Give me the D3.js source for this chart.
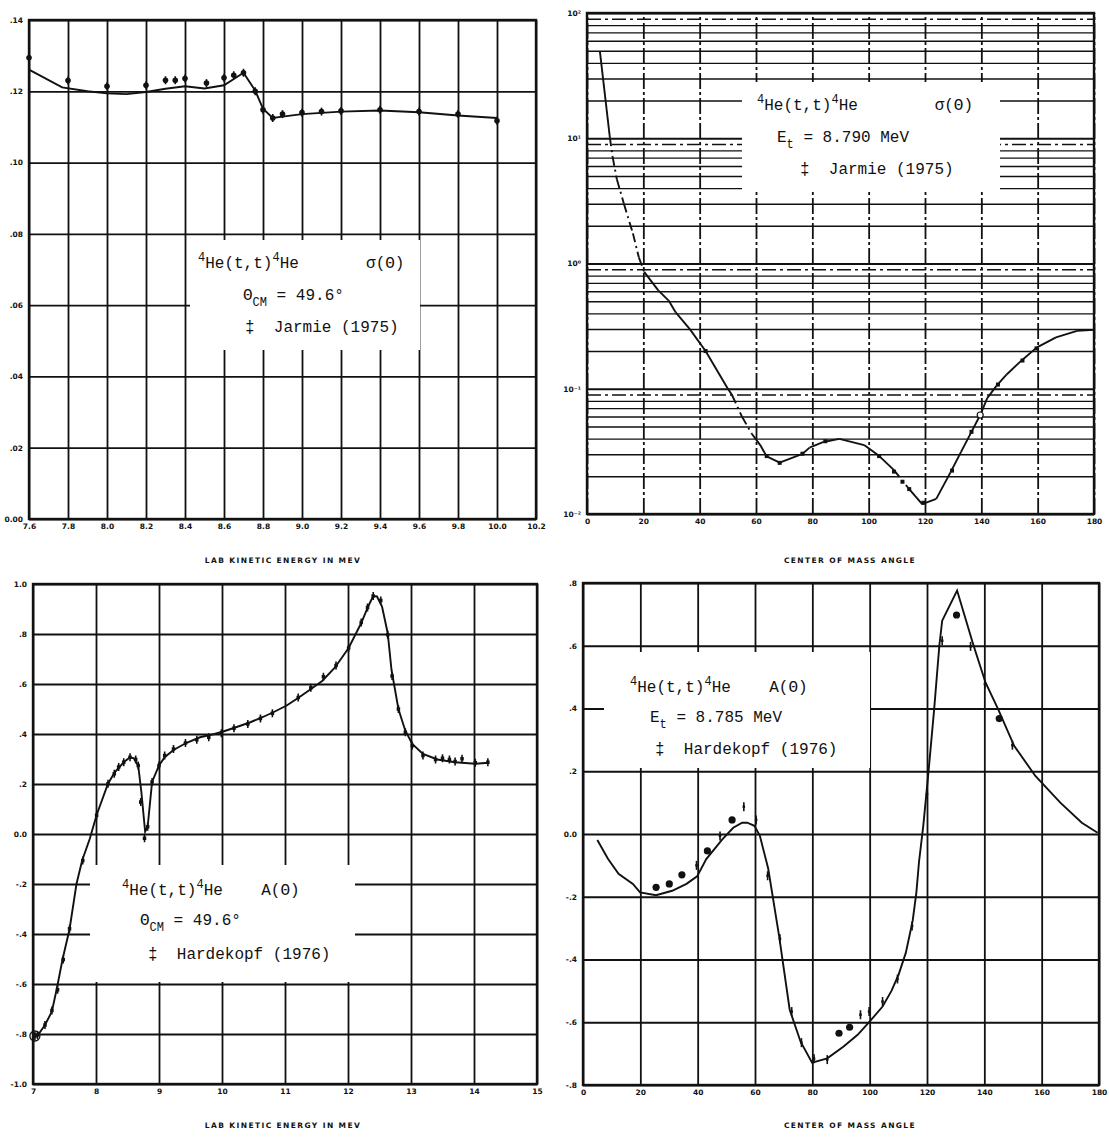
<!DOCTYPE html>
<html>
<head>
<meta charset="utf-8">
<script src="https://cdn.jsdelivr.net/npm/d3@7"></script>
<style>
body { margin: 0; background: #fff; }
svg { display: block; }
.grid .tick text { font-family: "DejaVu Sans", sans-serif; font-weight: bold; font-size: 7.5px; fill: #111; }
.grid .tick line { stroke: #111; stroke-width: 1.8; }
.title { font-family: "DejaVu Sans", sans-serif; font-weight: bold; font-size: 7.5px; letter-spacing: 1.4px; fill: #111; }
.box { font-family: "Liberation Mono", "DejaVu Sans Mono", monospace; font-size: 16px; white-space: pre; fill: #111; }
</style>
</head>
<body>
<svg width="1109" height="1138"></svg>
<script>
// top left: sigma(49.6 deg) against lab energy, Jarmie (1975)
var tlTicksX = [7.6, 7.8, 8.0, 8.2, 8.4, 8.6, 8.8, 9.0, 9.2, 9.4, 9.6, 9.8, 10.0, 10.2];
var tlLabelsX = ["7.6", "7.8", "8.0", "8.2", "8.4", "8.6", "8.8", "9.0", "9.2", "9.4", "9.6", "9.8", "10.0", "10.2"];
var tlTicksY = [0, 0.02, 0.04, 0.06, 0.08, 0.10, 0.12, 0.14];
var tlLabelsY = ["0.00", ".02", ".04", ".06", ".08", ".10", ".12", ".14"];
var tlCurveE = [7.6, 7.77, 7.9, 8.0, 8.1, 8.2, 8.3, 8.4, 8.5, 8.6, 8.7, 8.76, 8.8, 8.85, 8.9, 9.0, 9.2, 9.4, 9.6, 9.8, 10.0];
var tlCurveS = [.1261, .1211, .1200, .1194, .1192, .1198, .1207, .1214, .1208, .1217, .1252, .1202, .1151, .1125, .1129, .1136, .1143, .1146, .1141, .1132, .1125];
var tlDataE = [7.6, 7.8, 8.0, 8.2, 8.3, 8.35, 8.4, 8.51, 8.6, 8.65, 8.7, 8.76, 8.8, 8.85, 8.9, 9.0, 9.1, 9.2, 9.4, 9.6, 9.8, 10.0];
var tlDataS = [.1294, .1230, .1214, .1217, .1231, .1231, .1236, .1223, .1238, .1245, .1252, .1200, .1148, .1125, .1136, .1140, .1143, .1145, .1148, .1143, .1136, .1117];

// top right: angular distribution of sigma at 8.790 MeV
var trTicksX = [0, 20, 40, 60, 80, 100, 120, 140, 160, 180];
var trTicksY = [0.01, 0.1, 1, 10, 100];
var trLabelsY = ["10\u207B\u00B2", "10\u207B\u00B9", "10\u2070", "10\u00B9", "10\u00B2"];
var trCurveA = [4.6, 8.1, 9.1, 10.6, 13.1, 16.3, 18.4, 20.3, 25.3, 29, 31.5, 36.5, 42.1, 49.9, 51.5, 55, 58.5, 61.5, 63.8, 68.4, 76.5, 79, 84, 89.6, 98.4, 103.4, 109, 114, 119, 124, 129, 132.8, 136.5, 139.6, 142.1, 145.3, 149, 154, 159.6, 166.5, 174, 180];
var trCurveS = [49, 10.2, 7.1, 4.7, 3.0, 1.74, 1.12, 0.857, 0.61, 0.506, 0.407, 0.299, 0.20, 0.101, 0.089, 0.060, 0.0437, 0.0355, 0.0288, 0.0257, 0.0302, 0.0339, 0.0376, 0.0398, 0.0355, 0.0295, 0.0224, 0.0162, 0.0120, 0.0132, 0.0214, 0.0313, 0.0453, 0.0617, 0.0841, 0.105, 0.130, 0.166, 0.213, 0.257, 0.290, 0.295];
var trDataA = [42.1, 63.8, 68.4, 76.5, 84.6, 103.7, 109, 112, 114.4, 119.4, 129.6, 136.5, 145.9, 154.6, 159.6];
var trDataS = [0.20, 0.029, 0.0256, 0.0303, 0.0381, 0.029, 0.0218, 0.0181, 0.0158, 0.0123, 0.0222, 0.0453, 0.108, 0.168, 0.210];
var trOpenA = [139.6];
var trOpenS = [0.0617];

// bottom left: A(49.6 deg) against lab energy, Hardekopf (1976)
var blTicksX = [7, 8, 9, 10, 11, 12, 13, 14, 15];
var blLabelsX = ["7", "8", "9", "10", "11", "12", "13", "14", "15"];
var blTicksY = [-1, -0.8, -0.6, -0.4, -0.2, 0, 0.2, 0.4, 0.6, 0.8, 1];
var blLabelsY = ["-1.0", "-.8", "-.6", "-.4", "-.2", "0.0", ".2", ".4", ".6", ".8", "1.0"];
var blCurveE = [7.03, 7.09, 7.19, 7.30, 7.38, 7.47, 7.58, 7.69, 7.78, 7.9, 8.01, 8.19, 8.30, 8.44, 8.54, 8.60, 8.67, 8.72, 8.78, 8.82, 8.89, 9.0, 9.09, 9.23, 9.43, 9.65, 9.88, 10.02, 10.21, 10.44, 10.66, 10.83, 11.02, 11.22, 11.39, 11.59, 11.79, 12.01, 12.21, 12.32, 12.40, 12.46, 12.54, 12.63, 12.69, 12.80, 12.91, 13.02, 13.19, 13.42, 13.70, 14.02, 14.23];
var blCurveA = [-0.808, -0.80, -0.764, -0.71, -0.616, -0.50, -0.381, -0.2, -0.106, -0.02, 0.076, 0.201, 0.248, 0.287, 0.307, 0.303, 0.274, 0.168, 0.009, 0.029, 0.208, 0.274, 0.307, 0.336, 0.364, 0.387, 0.40, 0.41, 0.426, 0.446, 0.469, 0.489, 0.513, 0.546, 0.576, 0.612, 0.665, 0.744, 0.844, 0.91, 0.952, 0.95, 0.91, 0.804, 0.658, 0.50, 0.413, 0.36, 0.32, 0.298, 0.287, 0.281, 0.285];
var blDataE = [7.03, 7.07, 7.19, 7.30, 7.39, 7.48, 7.58, 7.79, 8.01, 8.19, 8.29, 8.36, 8.44, 8.54, 8.63, 8.67, 8.71, 8.77, 8.82, 8.89, 9.0, 9.09, 9.23, 9.42, 9.60, 9.79, 9.99, 10.19, 10.41, 10.61, 10.80, 11.21, 11.41, 11.61, 11.81, 12.01, 12.21, 12.31, 12.40, 12.52, 12.63, 12.70, 12.80, 12.91, 13.02, 13.19, 13.39, 13.50, 13.61, 13.70, 13.81, 14.02, 14.22];
var blDataA = [-0.808, -0.804, -0.764, -0.706, -0.623, -0.502, -0.379, -0.106, 0.075, 0.201, 0.241, 0.268, 0.287, 0.307, 0.298, 0.274, 0.128, -0.017, 0.029, 0.208, 0.274, 0.314, 0.340, 0.364, 0.377, 0.387, 0.403, 0.423, 0.44, 0.462, 0.483, 0.546, 0.585, 0.629, 0.674, 0.744, 0.846, 0.906, 0.952, 0.934, 0.797, 0.632, 0.50, 0.407, 0.354, 0.314, 0.298, 0.303, 0.298, 0.290, 0.301, 0.285, 0.287];

// bottom right: angular distribution of A at 8.785 MeV
var brTicksX = [0, 20, 40, 60, 80, 100, 120, 140, 160, 180];
var brTicksY = [-0.8, -0.6, -0.4, -0.2, 0, 0.2, 0.4, 0.6, 0.8];
var brLabelsY = ["-.8", "-.6", "-.4", "-.2", "0.0", ".2", ".4", ".6", ".8"];
var brCurveA = [5.0, 8.7, 12.4, 17.4, 19.9, 25.5, 31.1, 36.1, 39.8, 43, 48.6, 52.4, 55.5, 57.3, 59.8, 61.7, 64.6, 68.4, 72.1, 75.9, 79.9, 85.2, 90.8, 95.8, 99.5, 104.5, 107.6, 110.1, 112.6, 115, 116.3, 117.2, 118.7, 120.6, 122.5, 124.3, 125.3, 130.5, 136.1, 140.4, 144.8, 150.4, 157.8, 166.5, 174, 179.5];
var brCurveV = [-0.019, -0.079, -0.127, -0.159, -0.186, -0.195, -0.181, -0.159, -0.135, -0.08, -0.017, 0.02, 0.036, 0.036, 0.026, -0.006, -0.11, -0.325, -0.56, -0.662, -0.729, -0.715, -0.678, -0.64, -0.603, -0.55, -0.50, -0.448, -0.379, -0.277, -0.186, -0.09, 0.026, 0.206, 0.398, 0.60, 0.68, 0.776, 0.605, 0.483, 0.398, 0.281, 0.185, 0.10, 0.036, 0.004];
var brDotA = [25.5, 30.1, 34.5, 43.4, 52, 89.3, 93, 130.3, 145.2];
var brDotV = [-0.17, -0.159, -0.13, -0.054, 0.045, -0.635, -0.616, 0.698, 0.368];
var brBarA = [39.6, 47.8, 56.1, 60.4, 64.4, 68.7, 72.8, 76.2, 80.6, 85.2, 96.8, 99.8, 104.5, 109.7, 114.8, 120, 125.3, 135.2, 140.2, 149.8];
var brBarV = [-0.1, -0.006, 0.087, 0.045, -0.133, -0.334, -0.566, -0.665, -0.716, -0.719, -0.576, -0.566, -0.534, -0.462, -0.293, 0.127, 0.616, 0.598, 0.478, 0.283];

var svg = d3.select("svg");

function grid(x, y, xt, xl, yt, yl, dashX) {
    var w = x.range()[1] - x.range()[0], h = y.range()[0] - y.range()[1];
    var gx = svg.append("g").attr("class", "grid").attr("transform", "translate(0," + y.range()[0] + ")")
        .call(d3.axisBottom(x).tickValues(xt).tickSize(-h).tickPadding(5).tickFormat(function (d, i) { return xl[i] }));
    gx.select(".domain").remove();
    if (dashX) gx.selectAll(".tick line").style("stroke-dasharray", "16,3,3,3");
    var gy = svg.append("g").attr("class", "grid").attr("transform", "translate(" + x.range()[0] + ",0)")
        .call(d3.axisLeft(y).tickValues(yt).tickSize(-w).tickPadding(6).tickFormat(function (d, i) { return yl[i] }));
    gy.select(".domain").remove();
    svg.append("rect").attr("x", x.range()[0]).attr("y", y.range()[1]).attr("width", w).attr("height", h)
        .style("fill", "none").style("stroke", "#111").style("stroke-width", 2.4);
}

function whiteBox(x0, y0, x1, y1) {
    svg.append("rect").attr("x", x0).attr("y", y0).attr("width", x1 - x0).attr("height", y1 - y0).style("fill", "#fff");
}

// parts: [text, "sup" | "sub" | undefined]
function boxLine(x, y, parts) {
    var t = svg.append("text").attr("class", "box").attr("x", x).attr("y", y);
    var shift = 0;
    parts.forEach(function (p) {
        var target = p[1] == "sup" ? -7 : p[1] == "sub" ? 6 : 0;
        var s = t.append("tspan").attr("dy", target - shift).text(p[0]);
        if (p[1]) s.style("font-size", "12px");
        shift = target;
    });
}

function title(cx, cy, txt) {
    svg.append("text").attr("class", "title").attr("x", cx).attr("y", cy).attr("text-anchor", "middle").text(txt);
}

function curve(x, y, xs, ys) {
    svg.append("path").datum(d3.range(xs.length)).attr("d", d3.line().x(function (i) { return x(xs[i]) }).y(function (i) { return y(ys[i]) }))
        .style("fill", "none").style("stroke", "#111").style("stroke-width", 1.9);
}

function bars(x, y, xs, ys, half) {
    svg.append("g").selectAll("line").data(d3.range(xs.length)).enter().append("line")
        .attr("x1", function (i) { return x(xs[i]) }).attr("x2", function (i) { return x(xs[i]) })
        .attr("y1", function (i) { return y(ys[i]) - half }).attr("y2", function (i) { return y(ys[i]) + half })
        .style("stroke", "#111").style("stroke-width", 1.6);
}

function dots(x, y, xs, ys, r) {
    svg.append("g").selectAll("circle").data(d3.range(xs.length)).enter().append("circle")
        .attr("cx", function (i) { return x(xs[i]) }).attr("cy", function (i) { return y(ys[i]) }).attr("r", r)
        .style("fill", "#111");
}

function squares(x, y, xs, ys, s) {
    svg.append("g").selectAll("rect").data(d3.range(xs.length)).enter().append("rect")
        .attr("x", function (i) { return x(xs[i]) - s / 2 }).attr("y", function (i) { return y(ys[i]) - s / 2 })
        .attr("width", s).attr("height", s).style("fill", "#111");
}

// ---------- top left ----------
var tlX = d3.scaleLinear().domain([7.6, 10.2]).range([29, 536]);
var tlY = d3.scaleLinear().domain([0, 0.14]).range([519, 20]);
grid(tlX, tlY, tlTicksX, tlLabelsX, tlTicksY, tlLabelsY, false);
whiteBox(190, 240, 420, 350);
boxLine(198, 268, [["4", "sup"], ["He(t,t)"], ["4", "sup"], ["He       \u03C3(\u0398)"]]);
boxLine(243, 300, [["\u0398"], ["CM", "sub"], [" = 49.6\u00B0"]]);
boxLine(245, 332, [["\u2021  Jarmie (1975)"]]);
curve(tlX, tlY, tlCurveE, tlCurveS);
bars(tlX, tlY, tlDataE, tlDataS, 4);
dots(tlX, tlY, tlDataE, tlDataS, 2.8);
title(283, 563, "LAB KINETIC ENERGY IN MEV");

// ---------- top right ----------
var trX = d3.scaleLinear().domain([0, 180]).range([587, 1094]);
var trY = d3.scaleLog().domain([0.01, 100]).range([514, 13]);
var trMinor = [];
trTicksY.slice(0, 4).forEach(function (d) { d3.range(2, 10).forEach(function (k) { trMinor.push(d * k) }) });
var gm = svg.append("g").attr("class", "grid").attr("transform", "translate(587,0)")
    .call(d3.axisLeft(trY).tickValues(trMinor).tickSize(-507).tickFormat(""));
gm.select(".domain").remove();
gm.selectAll(".tick line").style("stroke-width", 1.4)
    .style("stroke-dasharray", function (d) { return Math.round(d / Math.pow(10, Math.floor(Math.log10(d) + 1e-9))) == 9 ? "14,4,3,4" : null });
grid(trX, trY, trTicksX, trTicksX.map(String), trTicksY, trLabelsY, true);
whiteBox(742, 82, 1000, 190);
boxLine(757, 110, [["4", "sup"], ["He(t,t)"], ["4", "sup"], ["He        \u03C3(\u0398)"]]);
boxLine(777, 142, [["E"], ["t", "sub"], [" = 8.790 MeV"]]);
boxLine(800, 174, [["\u2021  Jarmie (1975)"]]);
var dashedRanges = [[8.1, 20.3], [49.9, 58.5], [109, 114]];
d3.range(trCurveA.length - 1).forEach(function (i) {
    var mid = (trCurveA[i] + trCurveA[i + 1]) / 2;
    var dashed = dashedRanges.some(function (r) { return mid > r[0] && mid < r[1] });
    svg.append("line").attr("x1", trX(trCurveA[i])).attr("y1", trY(trCurveS[i]))
        .attr("x2", trX(trCurveA[i + 1])).attr("y2", trY(trCurveS[i + 1]))
        .style("stroke", "#111").style("stroke-width", 1.9).style("stroke-dasharray", dashed ? "9,4,2,4" : null);
});
squares(trX, trY, trDataA, trDataS, 4);
svg.append("g").selectAll("circle").data(d3.range(trOpenA.length)).enter().append("circle")
    .attr("cx", function (i) { return trX(trOpenA[i]) }).attr("cy", function (i) { return trY(trOpenS[i]) }).attr("r", 3)
    .style("fill", "#fff").style("stroke", "#111").style("stroke-width", 1.2);
title(850, 563, "CENTER OF MASS ANGLE");

// ---------- bottom left ----------
var blX = d3.scaleLinear().domain([7, 15]).range([33, 537]);
var blY = d3.scaleLinear().domain([-1, 1]).range([1084, 584]);
grid(blX, blY, blTicksX, blLabelsX, blTicksY, blLabelsY, false);
whiteBox(90, 865, 355, 982);
boxLine(122, 895, [["4", "sup"], ["He(t,t)"], ["4", "sup"], ["He    A(\u0398)"]]);
boxLine(140, 925, [["\u0398"], ["CM", "sub"], [" = 49.6\u00B0"]]);
boxLine(148, 959, [["\u2021  Hardekopf (1976)"]]);
curve(blX, blY, blCurveE, blCurveA);
bars(blX, blY, blDataE, blDataA, 4);
squares(blX, blY, blDataE, blDataA, 3.5);
svg.append("circle").attr("cx", blX(blDataE[0])).attr("cy", blY(blDataA[0])).attr("r", 5)
    .style("fill", "none").style("stroke", "#111").style("stroke-width", 1.3);
title(283, 1128, "LAB KINETIC ENERGY IN MEV");

// ---------- bottom right ----------
var brX = d3.scaleLinear().domain([0, 180]).range([583, 1099]);
var brY = d3.scaleLinear().domain([-0.8, 0.8]).range([1085, 583]);
grid(brX, brY, brTicksX, brTicksX.map(String), brTicksY, brLabelsY, false);
whiteBox(604, 652, 870, 768);
boxLine(630, 692, [["4", "sup"], ["He(t,t)"], ["4", "sup"], ["He    A(\u0398)"]]);
boxLine(650, 722, [["E"], ["t", "sub"], [" = 8.785 MeV"]]);
boxLine(655, 754, [["\u2021  Hardekopf (1976)"]]);
curve(brX, brY, brCurveA, brCurveV);
bars(brX, brY, brBarA, brBarV, 4.5);
squares(brX, brY, brBarA, brBarV, 2.5);
dots(brX, brY, brDotA, brDotV, 3.6);
title(850, 1128, "CENTER OF MASS ANGLE");
</script>
</body>
</html>
